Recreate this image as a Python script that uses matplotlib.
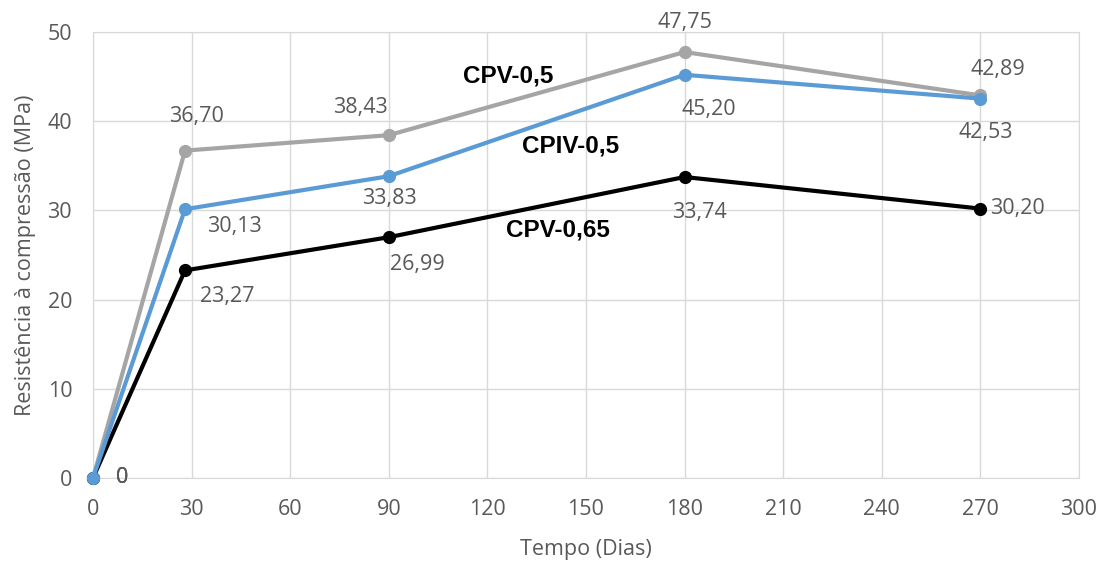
import matplotlib
matplotlib.use("Agg")
import matplotlib.pyplot as plt

dias = [0, 28, 90, 180, 270]
cpv_05 = [0, 36.70, 38.43, 47.75, 42.89]
cpiv_05 = [0, 30.13, 33.83, 45.20, 42.53]
cpv_065 = [0, 23.27, 26.99, 33.74, 30.20]

# deslocamento dos rótulos (pixels)
off_cpv05 = [(29, 0), (11, 34), (-28, 28), (0, 30), (18, 26)]
off_cpiv05 = [(29, 0), (49, -17), (1, -22), (24, -35), (5, -34)]
off_cpv065 = [(29, 0), (42, -26), (29, -27), (15, -35), (37, 0)]

plt.rcParams['font.family'] = ['Open Sans', 'DejaVu Sans']
fs = 15.5

fig = plt.figure(figsize=(11.02, 5.61), dpi=100)
ax = fig.add_axes([0.0844, 0.148, 0.8946, 0.795])

series = [
    (cpv_05, '#A5A5A5', off_cpv05),
    (cpv_065, '#000000', off_cpv065),
    (cpiv_05, '#5B9BD5', off_cpiv05),
]
for vals, cor, offs in series:
    ax.plot(dias, vals, color=cor, lw=3, marker='o', ms=8.5, zorder=3, clip_on=False)
    for x, y, o in zip(dias, vals, offs):
        txt = '0' if y == 0 else f'{y:.2f}'.replace('.', ',')
        ax.annotate(txt, (x, y), xytext=o, textcoords='offset pixels',
                    ha='center', va='center', fontsize=fs, color='#595959')

lab = dict(fontsize=17.5, fontweight='bold', family=['Liberation Sans', 'DejaVu Sans'],
           ha='center', va='center', color='black')
ax.text(126.3, 45.1, 'CPV-0,5', **lab)
ax.text(145.4, 37.2, 'CPIV-0,5', **lab)
ax.text(141.5, 27.8, 'CPV-0,65', **lab)

ax.set_xlim(0, 300)
ax.set_ylim(0, 50)
ax.set_xticks(range(0, 301, 30))
ax.set_yticks(range(0, 51, 10))
ax.grid(True, color='#D9D9D9', lw=1)
ax.set_axisbelow(True)
for s in ax.spines.values():
    s.set_color('#D9D9D9')
ax.tick_params(length=0, labelsize=fs, labelcolor='#595959', pad=15)
ax.set_xlabel('Tempo (Dias)', fontsize=fs, color='#595959', labelpad=14)
ax.set_ylabel('Resistência à compressão (MPa)', fontsize=fs, color='#595959', labelpad=8)

fig.savefig('out.png', dpi=100)
